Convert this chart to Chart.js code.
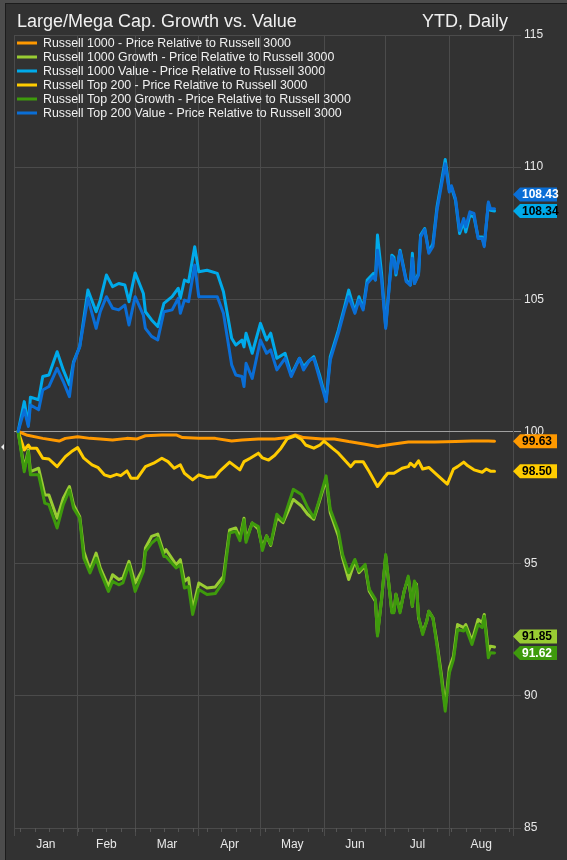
<!DOCTYPE html>
<html>
<head>
<meta charset="utf-8">
<script src="https://cdn.jsdelivr.net/npm/chart.js@4/dist/chart.umd.min.js"></script>
<style>
  html, body { margin: 0; padding: 0; background: #323232; }
  canvas { display: block; }
</style>
</head>
<body>
<canvas id="chart" width="567" height="860"></canvas>
<script>
// Month axis (x is day of year, 0 = Jan 1)
const months = ['Jan', 'Feb', 'Mar', 'Apr', 'May', 'Jun', 'Jul', 'Aug'];
const monthStarts = [0, 31, 59, 90, 120, 151, 181, 212, 243];
const yTicks = [85, 90, 95, 100, 105, 110, 115];

const seriesNames = [
  'Russell 1000 - Price Relative to Russell 3000',
  'Russell 1000 Growth - Price Relative to Russell 3000',
  'Russell 1000 Value - Price Relative to Russell 3000',
  'Russell Top 200 - Price Relative to Russell 3000',
  'Russell Top 200 Growth - Price Relative to Russell 3000',
  'Russell Top 200 Value - Price Relative to Russell 3000'
];

// Russell 1000
const r1000Days = [2,6,14,22,25,31,37,42,48,55,60,64,72,79,82,90,98,106,111,119,127,133,137,141,150,156,163,171,177,184,192,205,215,223,231,234];
const r1000 = [100,99.87,99.74,99.64,99.74,99.8,99.74,99.72,99.68,99.74,99.72,99.84,99.87,99.87,99.77,99.74,99.74,99.64,99.68,99.72,99.72,99.77,99.87,99.77,99.72,99.72,99.62,99.52,99.43,99.52,99.6,99.6,99.62,99.64,99.64,99.63];

// Russell Top 200
const top200Days = [2,4,5,7,8,11,14,17,21,25,28,31,34,38,41,44,47,50,52,55,57,60,64,68,72,75,78,81,83,87,90,94,98,100,105,110,112,115,119,121,124,127,130,133,137,140,142,146,149,151,155,158,161,164,166,170,173,177,180,182,185,189,192,193,195,197,199,202,206,211,214,216,219,221,224,228,230,232,234];
const top200 = [100,99.55,99.3,99.49,99.37,99.37,98.99,98.96,98.67,99.05,99.24,99.39,98.99,98.74,98.63,98.36,98.29,98.38,98.33,98.51,98.23,98.23,98.67,98.8,98.99,98.86,98.61,98.74,98.42,98.17,98.36,98.26,98.29,98.48,98.84,98.55,98.86,98.99,99.18,99.0,98.92,99.1,99.37,99.72,99.84,99.7,99.49,99.37,99.49,99.64,99.37,99.18,98.92,98.67,98.86,98.86,98.48,97.92,98.23,98.42,98.42,98.61,98.67,98.8,98.67,98.89,98.58,98.64,98.36,98.01,98.58,98.67,98.84,98.7,98.55,98.46,98.58,98.5,98.5];

// Value pair (Russell 1000 Value, Russell Top 200 Value)
const valueDays = [2,5,7,8,12,14,17,21,24,27,29,32,36,40,42,45,48,51,54,56,59,63,64,67,70,73,77,80,81,83,85,88,90,94,99,102,106,108,111,112,113,116,120,123,125,128,132,135,139,141,144,146,149,152,154,158,161,163,166,168,170,172,175,176,177,179,181,184,185,186,188,191,193,194,195,197,198,200,202,204,206,208,210,212,213,215,217,219,220,222,224,226,228,229,231,232,234];
const r1000Value = [100,101.13,100.25,101.3,101.2,102.08,102.14,103.02,102.33,101.76,102.64,103.21,105.35,104.53,104.97,105.92,105.48,105.6,105.54,104.91,106.0,105.22,104.53,104.22,103.97,104.85,105.1,105.42,105.04,105.73,105.66,106.99,106.04,106.1,105.98,105.29,103.53,103.27,103.46,103.2,103.72,102.96,104.09,103.46,103.72,102.77,102.96,102.14,102.77,102.45,102.7,102.83,102.08,101.2,102.83,103.84,104.72,105.35,104.53,105.1,104.66,105.73,105.98,105.73,107.43,105.98,103.97,106.67,106.6,105.92,106.86,105.73,105.54,106.74,105.6,105.98,107.43,107.68,106.8,107.11,108.5,109.38,110.29,109.13,109.25,108.75,107.49,107.93,107.55,108.18,108.12,107.36,107.36,107.05,108.62,108.37,108.34];
const top200Value = [100,100.82,100.19,101.0,100.82,101.57,101.7,102.39,101.89,101.32,102.58,103.21,105.04,103.9,104.53,105.1,104.66,104.6,104.78,104.03,105.1,104.4,103.9,103.6,103.46,104.53,104.6,105.04,104.47,104.97,104.91,106.3,105.1,105.1,105.1,104.47,102.52,102.14,102.08,101.7,102.58,102.01,103.46,102.96,103.09,102.33,102.77,102.08,102.77,102.33,102.7,102.77,101.95,101.13,102.7,103.72,104.6,105.1,104.47,104.97,104.6,105.6,105.86,105.73,106.86,105.73,103.9,106.6,106.5,106.0,106.8,105.67,105.54,106.55,105.6,105.92,107.36,107.64,106.74,107.0,108.37,109.25,110.13,109.06,109.3,108.81,107.6,108.06,107.74,108.31,108.25,107.3,107.3,106.99,108.68,108.43,108.43];

// Growth pair (Russell 1000 Growth, Russell Top 200 Growth)
const growthDays = [2,5,7,8,12,15,17,21,24,27,29,32,34,37,40,42,46,48,51,53,56,59,63,64,67,70,73,74,79,81,83,85,87,90,94,98,102,105,108,110,112,113,116,119,121,123,125,128,131,136,140,143,146,149,152,154,158,160,163,166,168,171,173,176,177,179,181,184,185,186,188,190,192,194,195,196,197,199,201,202,204,206,208,210,212,214,216,219,220,223,226,228,229,231,232,234];
const r1000Growth = [100,98.61,99.3,98.48,98.61,97.6,97.6,96.72,97.48,97.92,97.23,96.78,95.46,94.77,95.4,94.84,94.14,94.58,94.4,94.46,95.09,94.27,94.84,95.59,96.03,96.12,95.4,95.53,94.96,95.15,94.33,94.46,93.26,94.27,94.08,94.12,94.52,96.28,96.35,95.97,96.72,95.91,96.54,96.3,95.6,96.05,95.69,96.74,96.55,97.43,97.18,96.87,96.68,97.43,98.19,96.93,96.04,95.22,94.4,95.1,94.66,94.91,93.96,93.58,92.32,93.65,95.29,93.2,93.2,93.84,93.2,93.96,94.47,93.39,94.28,94.22,92.95,92.39,92.83,93.2,92.95,92.0,90.87,89.6,91.06,91.5,92.7,92.58,92.7,92.07,92.89,92.77,93.08,91.69,91.88,91.85];
const top200Growth = [100,98.48,99.24,98.36,98.36,97.29,97.23,96.35,97.23,97.79,97.1,96.72,95.21,94.65,95.21,94.71,93.95,94.33,94.2,94.27,94.96,93.95,94.71,95.46,95.78,95.97,95.27,95.27,94.84,94.96,94.08,94.14,93.08,94.02,93.83,93.87,94.33,96.16,96.22,95.87,96.66,95.81,96.54,96.4,95.5,96.05,95.73,96.87,96.61,97.81,97.62,97.12,96.74,97.5,98.32,97.06,96.23,95.35,94.66,95.16,94.72,94.97,94.03,93.65,92.26,93.65,95.35,93.14,93.14,93.84,93.14,93.96,94.53,93.39,94.34,94.15,93.01,92.32,92.83,93.2,92.95,91.88,90.74,89.42,90.87,91.37,92.51,92.45,92.58,91.94,92.7,92.58,93.01,91.44,91.63,91.62];

const seriesDays = [r1000Days, growthDays, valueDays, top200Days, growthDays, valueDays];
const seriesValues = [r1000, r1000Growth, r1000Value, top200, top200Growth, top200Value];
const seriesColors = ['#FF9900', '#99CC33', '#00AAEA', '#FFCC00', '#3E9A0C', '#0A6ED6'];
const flagTextColors = ['#000', '#000', '#000', '#000', '#fff', '#fff'];
const drawOrder = [6, 5, 4, 3, 2, 1];

const FONT = 'Arial, "Liberation Sans", sans-serif';

function toPoints(days, vals) {
  return days.map((d, i) => ({ x: d, y: vals[i] }));
}

const datasets = seriesNames.map((name, i) => ({
  label: name,
  data: toPoints(seriesDays[i], seriesValues[i]),
  borderColor: seriesColors[i],
  backgroundColor: seriesColors[i],
  borderWidth: 3,
  borderJoinStyle: 'round',
  borderCapStyle: 'round',
  pointRadius: 0,
  tension: 0,
  order: drawOrder[i]
}));

const decor = {
  id: 'decor',
  beforeDraw(chart) {
    const ctx = chart.ctx;
    ctx.save();
    ctx.fillStyle = '#323232';
    ctx.fillRect(0, 0, chart.width, chart.height);
    // outer frame
    ctx.fillStyle = '#4c4c4c';
    ctx.fillRect(0, 0, 5, chart.height);
    ctx.fillRect(0, 0, chart.width, 3);
    ctx.fillStyle = '#1c1c1c';
    ctx.fillRect(5, 3, 1, chart.height);
    ctx.fillRect(5, 3, chart.width, 1);
    ctx.restore();
  },
  afterDraw(chart) {
    const ctx = chart.ctx;
    const area = chart.chartArea;
    const xs = chart.scales.x;
    const ys = chart.scales.y;
    ctx.save();

    // title
    ctx.fillStyle = '#f0f0f0';
    ctx.font = '18px ' + FONT;
    ctx.textBaseline = 'alphabetic';
    ctx.textAlign = 'left';
    ctx.fillText('Large/Mega Cap. Growth vs. Value', 17, 27);
    ctx.textAlign = 'right';
    ctx.fillText('YTD, Daily', 508, 27);

    // legend
    ctx.font = '12.4px ' + FONT;
    ctx.textAlign = 'left';
    ctx.textBaseline = 'middle';
    chart.data.datasets.forEach((ds, i) => {
      const y = 43 + i * 14;
      ctx.strokeStyle = ds.borderColor;
      ctx.lineWidth = 3;
      ctx.beginPath();
      ctx.moveTo(17, y);
      ctx.lineTo(37, y);
      ctx.stroke();
      ctx.fillStyle = '#f0f0f0';
      ctx.fillText(ds.label, 43, y + 0.5);
    });

    // minor weekly ticks on x axis
    ctx.strokeStyle = '#555';
    ctx.lineWidth = 1;
    for (let d = 3; d < 243; d += 7) {
      const px = Math.round(xs.getPixelForValue(d)) + 0.5;
      ctx.beginPath();
      ctx.moveTo(px, area.bottom);
      ctx.lineTo(px, area.bottom + 4);
      ctx.stroke();
    }

    // month labels
    ctx.fillStyle = '#e8e8e8';
    ctx.font = '12px ' + FONT;
    ctx.textAlign = 'center';
    ctx.textBaseline = 'middle';
    months.forEach((m, i) => {
      const mid = (monthStarts[i] + monthStarts[i + 1]) / 2;
      ctx.fillText(m, xs.getPixelForValue(mid), area.bottom + 17);
    });

    // last value flags
    const flags = chart.data.datasets.map((ds, i) => {
      const last = ds.data[ds.data.length - 1].y;
      return { v: last, y: ys.getPixelForValue(last), bg: ds.borderColor, fg: flagTextColors[i] };
    }).sort((a, b) => b.y - a.y);
    const gap = 16.5;
    for (let i = 1; i < flags.length; i++) {
      if (flags[i].y > flags[i - 1].y - gap) flags[i].y = flags[i - 1].y - gap;
    }
    ctx.font = 'bold 12px ' + FONT;
    ctx.textAlign = 'left';
    flags.forEach(f => {
      const x0 = area.right, h = 7;
      ctx.fillStyle = f.bg;
      ctx.beginPath();
      ctx.moveTo(x0, f.y);
      ctx.lineTo(x0 + 7, f.y - h);
      ctx.lineTo(x0 + 44, f.y - h);
      ctx.lineTo(x0 + 44, f.y + h);
      ctx.lineTo(x0 + 7, f.y + h);
      ctx.closePath();
      ctx.fill();
      ctx.fillStyle = f.fg;
      ctx.fillText(f.v.toFixed(2), x0 + 9, f.y + 0.5);
    });

    // small marker on the left frame
    ctx.fillStyle = '#f0f0f0';
    ctx.beginPath();
    ctx.moveTo(1, 447);
    ctx.lineTo(4, 444);
    ctx.lineTo(4, 450);
    ctx.closePath();
    ctx.fill();

    ctx.restore();
  }
};

new Chart(document.getElementById('chart').getContext('2d'), {
  type: 'line',
  data: { datasets },
  options: {
    responsive: false,
    animation: false,
    devicePixelRatio: 1,
    layout: { padding: { left: 14, top: 35, right: 0, bottom: 0 } },
    plugins: { legend: { display: false }, tooltip: { enabled: false } },
    scales: {
      x: {
        type: 'linear',
        min: 0,
        max: 243,
        afterBuildTicks: s => { s.ticks = monthStarts.map(v => ({ value: v })); },
        afterFit: s => { s.height = 32; },
        ticks: { display: false },
        grid: { color: '#4b4b4b', tickLength: 8, lineWidth: 1 },
        border: { color: '#4b4b4b' }
      },
      y: {
        position: 'right',
        min: 85,
        max: 115,
        afterBuildTicks: s => { s.ticks = yTicks.map(v => ({ value: v })); },
        afterFit: s => { s.width = 54; },
        ticks: { color: '#e8e8e8', font: { family: FONT, size: 12 }, padding: 3 },
        grid: {
          color: c => (c.tick && c.tick.value === 100 ? '#a0a0a0' : '#4b4b4b'),
          tickLength: 8,
          lineWidth: 1
        },
        border: { color: '#4b4b4b' }
      }
    }
  },
  plugins: [decor]
});
</script>
</body>
</html>
